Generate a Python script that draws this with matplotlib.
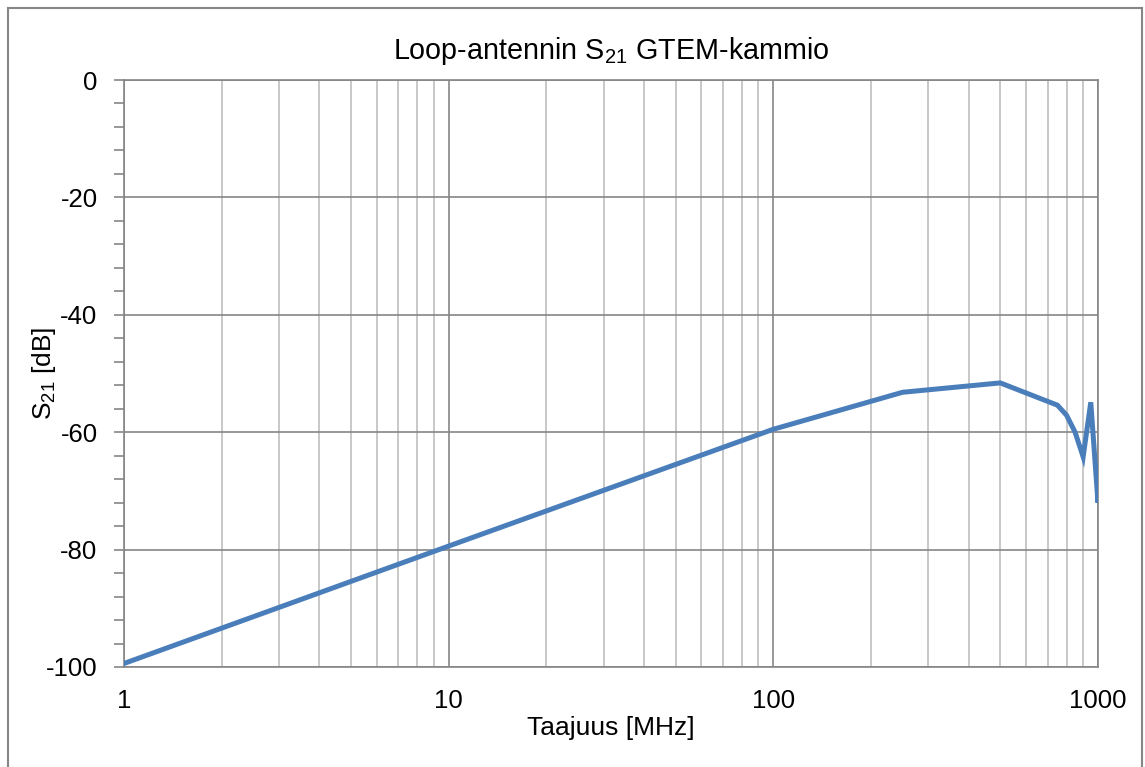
import numpy as np
import matplotlib.pyplot as plt
from matplotlib.ticker import FixedLocator, MultipleLocator, NullFormatter
from matplotlib.patches import Rectangle

plt.rcParams['font.family'] = ['Liberation Sans', 'DejaVu Sans']
plt.rcParams['axes.unicode_minus'] = False

# Mittausdata (luettu kuvasta)
freq_mhz = [1, 10, 100, 250, 500, 750, 800, 850, 900, 950, 1000, 1010]
s21_db = [-99.4, -79.4, -59.5, -53.2, -51.6, -55.4, -57.1, -60.0, -64.2, -54.9, -72.0, -66.0]

x_ticks = [1, 10, 100, 1000]
x_ticklabels = ["1", "10", "100", "1000"]
y_ticks = [0, -20, -40, -60, -80, -100]

fig = plt.figure(figsize=(11.45, 7.67), dpi=100)
ax = fig.add_axes([124 / 1145, 1 - 667 / 767, (1098 - 124) / 1145, (667 - 80) / 767])

grid_major = '#868686'
grid_minor = '#BFBFBF'

ax.plot(freq_mhz, s21_db, color='#4A7EBB', linewidth=3.6, solid_joinstyle='miter', zorder=3)

ax.set_xscale('log')
ax.set_xlim(1, 1000)
ax.set_ylim(-100, 0)

ax.xaxis.set_major_locator(FixedLocator(x_ticks))
ax.set_xticklabels(x_ticklabels)
ax.xaxis.set_minor_locator(FixedLocator([m * d for d in [1, 10, 100] for m in range(2, 10)]))
ax.xaxis.set_minor_formatter(NullFormatter())
ax.yaxis.set_major_locator(FixedLocator(y_ticks))
ax.yaxis.set_minor_locator(MultipleLocator(4))

ax.grid(which='major', color=grid_major, linewidth=1.2)
ax.grid(which='minor', axis='x', color=grid_minor, linewidth=1.2)
ax.set_axisbelow(True)

ax.tick_params(axis='x', which='both', length=0, labelsize=18.5, pad=16)
ax.tick_params(axis='y', which='both', direction='out', length=7, width=1.2,
               color=grid_major, labelsize=18.5, pad=12)
for side in ['left', 'bottom', 'top', 'right']:
    ax.spines[side].set_color(grid_major)
    ax.spines[side].set_linewidth(1.2)

ax.set_title(r'Loop-antennin S$\mathregular{_{21}}$ GTEM-kammio', fontsize=20.7, pad=15)
ax.set_xlabel('Taajuus [MHz]', fontsize=19, labelpad=2)
ax.set_ylabel(r'S$\mathregular{_{21}}$ [dB]', fontsize=19, labelpad=-9)

fig.patches.append(Rectangle((8 / 1145, -0.02), (1142 - 8) / 1145, 1 - 8 / 767 + 0.02,
                             transform=fig.transFigure, fill=False,
                             edgecolor='#868686', linewidth=1.5))

fig.savefig('out.png', dpi=100)
